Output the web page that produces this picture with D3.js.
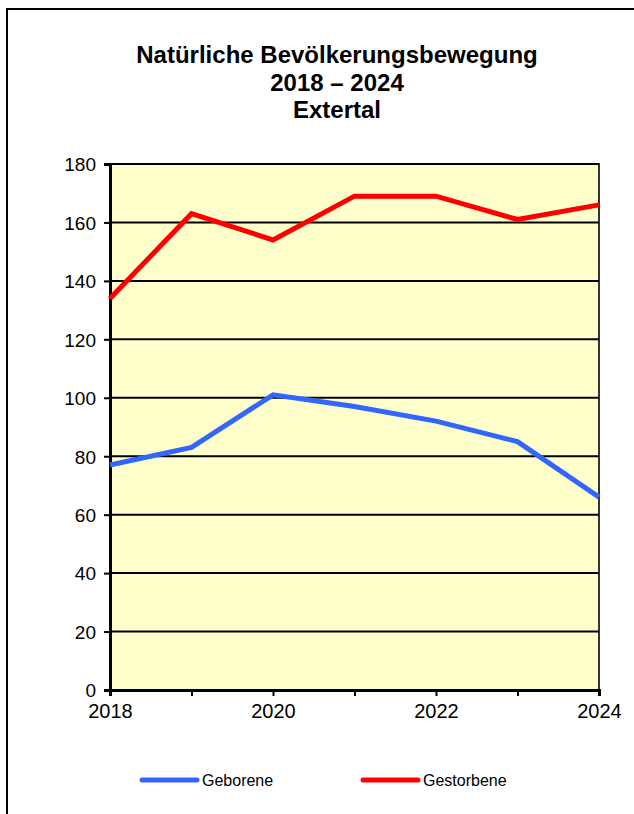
<!DOCTYPE html>
<html>
<head>
<meta charset="utf-8">
<script src="https://cdn.jsdelivr.net/npm/d3@7"></script>
<style>
  body { margin: 0; background: #fff; }
  text { font-family: Arial, "Liberation Sans", sans-serif; fill: #000; }
</style>
</head>
<body>
<script>
// Daten
var jahre = [2018, 2019, 2020, 2021, 2022, 2023, 2024]
var geborene = [77, 83, 101, 97, 92, 85, 66]
var gestorbene = [134, 163, 154, 169, 169, 161, 166]
var yTicks = [0, 20, 40, 60, 80, 100, 120, 140, 160, 180]
var xLabels = [2018, 2020, 2022, 2024]
var titel = ["Natürliche Bevölkerungsbewegung", "2018 – 2024", "Extertal"]

var serien = [
  { name: "Geborene", werte: geborene, farbe: "#3366ff" },
  { name: "Gestorbene", werte: gestorbene, farbe: "#ff0000" }
]

var svg = d3.select("body").append("svg")
    .attr("width", 634)
    .attr("height", 814)

// Rahmen (geht über den Bildrand hinaus)
svg.append("rect")
    .attr("x", 7).attr("y", 9)
    .attr("width", 800).attr("height", 900)
    .attr("fill", "#fff")
    .attr("stroke", "#000")
    .attr("stroke-width", 2)

// Titel
svg.append("g").selectAll("text")
    .data(titel)
    .enter().append("text")
    .attr("x", 337)
    .attr("y", (d, i) => 63 + i * 27.5)
    .attr("text-anchor", "middle")
    .style("font-size", "24px")
    .style("font-weight", "bold")
    .text(d => d)

var links = 110, rechts = 599, oben = 164, unten = 690

var x = d3.scalePoint().domain(jahre).range([links, rechts])
var y = d3.scaleLinear().domain([0, 180]).range([unten, oben])

// Zeichenfläche
svg.append("rect")
    .attr("x", links).attr("y", oben)
    .attr("width", rechts - links).attr("height", unten - oben)
    .attr("fill", "#ffffcc")
    .attr("stroke", "#333")
    .attr("stroke-width", 2)

// Gitterlinien
svg.append("g").selectAll("line")
    .data(yTicks.slice(1))
    .enter().append("line")
    .attr("x1", links).attr("x2", rechts)
    .attr("y1", d => y(d)).attr("y2", d => y(d))
    .attr("stroke", "#000")
    .attr("stroke-width", 2)

// Y-Achse
var yAchse = svg.append("g")
    .attr("transform", "translate(" + links + ",0)")
    .call(d3.axisLeft(y).tickValues(yTicks).tickSize(6).tickPadding(8))
yAchse.select(".domain").attr("stroke-width", 3)
yAchse.selectAll(".tick line").attr("stroke-width", 2)
yAchse.selectAll("text").style("font-size", "19px").attr("fill", "#000").attr("dy", "0.36em")

// X-Achse
var xAchse = svg.append("g")
    .attr("transform", "translate(0," + unten + ")")
    .call(d3.axisBottom(x).tickSize(6).tickPadding(8)
      .tickFormat(d => xLabels.includes(d) ? d : ""))
xAchse.select(".domain").attr("stroke-width", 3)
xAchse.selectAll(".tick line").attr("stroke-width", 2)
xAchse.selectAll("text").style("font-size", "20px").attr("fill", "#000")

// Linien
var linie = d3.line()
    .x((d, i) => x(jahre[i]))
    .y(d => y(d))

svg.append("g").selectAll("path")
    .data(serien)
    .enter().append("path")
    .attr("d", d => linie(d.werte))
    .attr("fill", "none")
    .attr("stroke", d => d.farbe)
    .attr("stroke-width", 5)

// Legende
var legende = svg.append("g").selectAll("g")
    .data(serien)
    .enter().append("g")
    .attr("transform", (d, i) => "translate(" + (142 + i * 221) + ",780)")

legende.append("line")
    .attr("x1", 0).attr("x2", 55)
    .attr("stroke", d => d.farbe)
    .attr("stroke-width", 5)
    .attr("stroke-linecap", "round")

legende.append("text")
    .attr("x", 60)
    .attr("y", 6)
    .style("font-size", "16px")
    .text(d => d.name)
</script>
</body>
</html>
